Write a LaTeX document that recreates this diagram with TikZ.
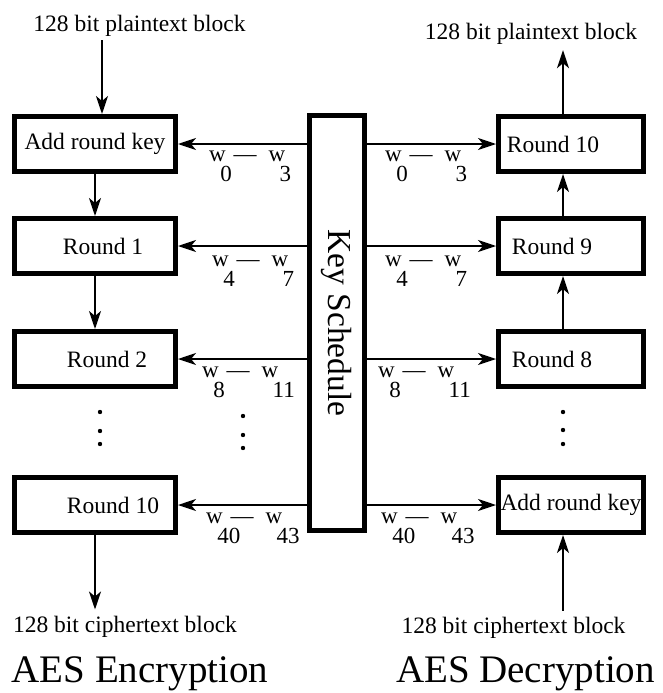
\documentclass[tikz,border=0pt]{standalone}
\usepackage{fontspec}
\setmainfont{Liberation Serif}
\usetikzlibrary{arrows.meta}
\newcommand{\wlab}[2]{w\rlap{\kern-0.24em\raisebox{-0.9em}{#1}}\kern0.34em\textemdash\kern0.52em w\rlap{\kern-0.24em\raisebox{-0.9em}{#2}}}
\begin{document}
\begin{tikzpicture}[x=1pt,y=-1pt,
 box/.style={draw, line width=5pt, minimum height=55pt, inner sep=0pt, font=\fontsize{23.5}{26}\selectfont},
 lbox/.style={box, minimum width=161pt},
 rbox/.style={box, minimum width=145pt},
 txt/.style={inner sep=0pt, font=\fontsize{23.5}{26}\selectfont},
 ttl/.style={inner sep=0pt, font=\fontsize{39}{42}\selectfont},
 wl/.style={inner sep=0pt, anchor=base west, font=\fontsize{23}{26}\selectfont},
 varr/.style={line width=2pt, -{Stealth[length=18pt,width=12pt,inset=5pt]}},
 harr/.style={line width=1.5pt, -{Stealth[length=18pt,width=12pt,inset=5pt]}},
 dot/.style={circle, fill, inner sep=0pt, minimum size=4.4pt}]
\useasboundingbox (0,0) rectangle (662,693);
% encryption boxes
\node[lbox] (e0) at (95,144) {Add round key};
\node[lbox] (e1) at (95,246) {\kern16pt Round 1};
\node[lbox] (e2) at (95,359) {\kern24pt Round 2};
\node[lbox] (e3) at (95,505) {\kern36pt Round 10};
% decryption boxes
\node[rbox] (d0) at (571,144) {Round 10\kern36pt};
\node[rbox] (d1) at (571,246) {Round 9\kern38pt};
\node[rbox] (d2) at (571,359) {Round 8\kern38pt};
\node[rbox] (d3) at (571,505) {Add round key};
% key schedule
\node[draw, line width=5pt, minimum width=55pt, minimum height=415pt, inner sep=0pt,
      font=\fontsize{33.5}{36}\selectfont] (ks) at (337,323) {\rotatebox{-90}{Key Schedule}};
% texts
\node[txt, anchor=base] (ptL) at (139.5,32) {128 bit plaintext block};
\node[txt, anchor=base] (ptR) at (531,40) {128 bit plaintext block};
\node[txt, anchor=base] (ctL) at (125,632) {128 bit ciphertext block};
\node[txt, anchor=base] (ctR) at (513.5,633) {128 bit ciphertext block};
\node[ttl, anchor=base] (aesE) at (140,682) {AES Encryption};
\node[ttl, anchor=base] (aesD) at (525.5,682) {AES Decryption};
% vertical arrows, encryption
\draw[varr] ([xshift=7pt,yshift=-3pt]e0.north |- ptL.south) -- ([xshift=7pt]e0.north);
\draw[varr] (e0.south) -- (e1.north);
\draw[varr] (e1.south) -- (e2.north);
\draw[varr] (e3.south) -- ([yshift=6pt]e3.south |- ctL.north);
% vertical arrows, decryption
\draw[varr] ([xshift=-8pt]d0.north) -- ([xshift=-8pt,yshift=-5pt]d0.north |- ptR.south);
\draw[varr] ([xshift=-8pt]d1.north) -- ([xshift=-8pt]d0.south);
\draw[varr] ([xshift=-8pt]d2.north) -- ([xshift=-8pt]d1.south);
\draw[varr] ([xshift=-8pt,yshift=6pt]d3.south |- ctR.north) -- ([xshift=-8pt]d3.south);
% key arrows
\draw[harr] (ks.west |- e0.east) -- (e0.east);
\draw[harr] (ks.west |- e1.east) -- (e1.east);
\draw[harr] (ks.west |- e2.east) -- (e2.east);
\draw[harr] (ks.west |- e3.east) -- (e3.east);
\draw[harr] (ks.east |- d0.west) -- (d0.west);
\draw[harr] (ks.east |- d1.west) -- (d1.west);
\draw[harr] (ks.east |- d2.west) -- (d2.west);
\draw[harr] (ks.east |- d3.west) -- (d3.west);
% key labels
\node[wl] (le0) at (209,161) {\wlab{0}{3}};
\node[wl] (le1) at (212,266) {\wlab{4}{7}};
\node[wl] (le2) at (202,377) {\wlab{8}{11}};
\node[wl] (le3) at (206,523) {\wlab{40}{43}};
\node[wl] (ld0) at (385,161) {\wlab{0}{3}};
\node[wl] (ld1) at (385,266) {\wlab{4}{7}};
\node[wl] (ld2) at (378,377) {\wlab{8}{11}};
\node[wl] (ld3) at (381,523) {\wlab{40}{43}};
% dots
\node[dot] (a1) at (100,412) {};
\node[dot] (a2) at (100,431) {};
\node[dot] (a3) at (100,444) {};
\node[dot] (b1) at (243,416) {};
\node[dot] (b2) at (243,435) {};
\node[dot] (b3) at (243,448) {};
\node[dot] (c1) at (563,412) {};
\node[dot] (c2) at (563,430) {};
\node[dot] (c3) at (563,444) {};
\end{tikzpicture}
\end{document}
